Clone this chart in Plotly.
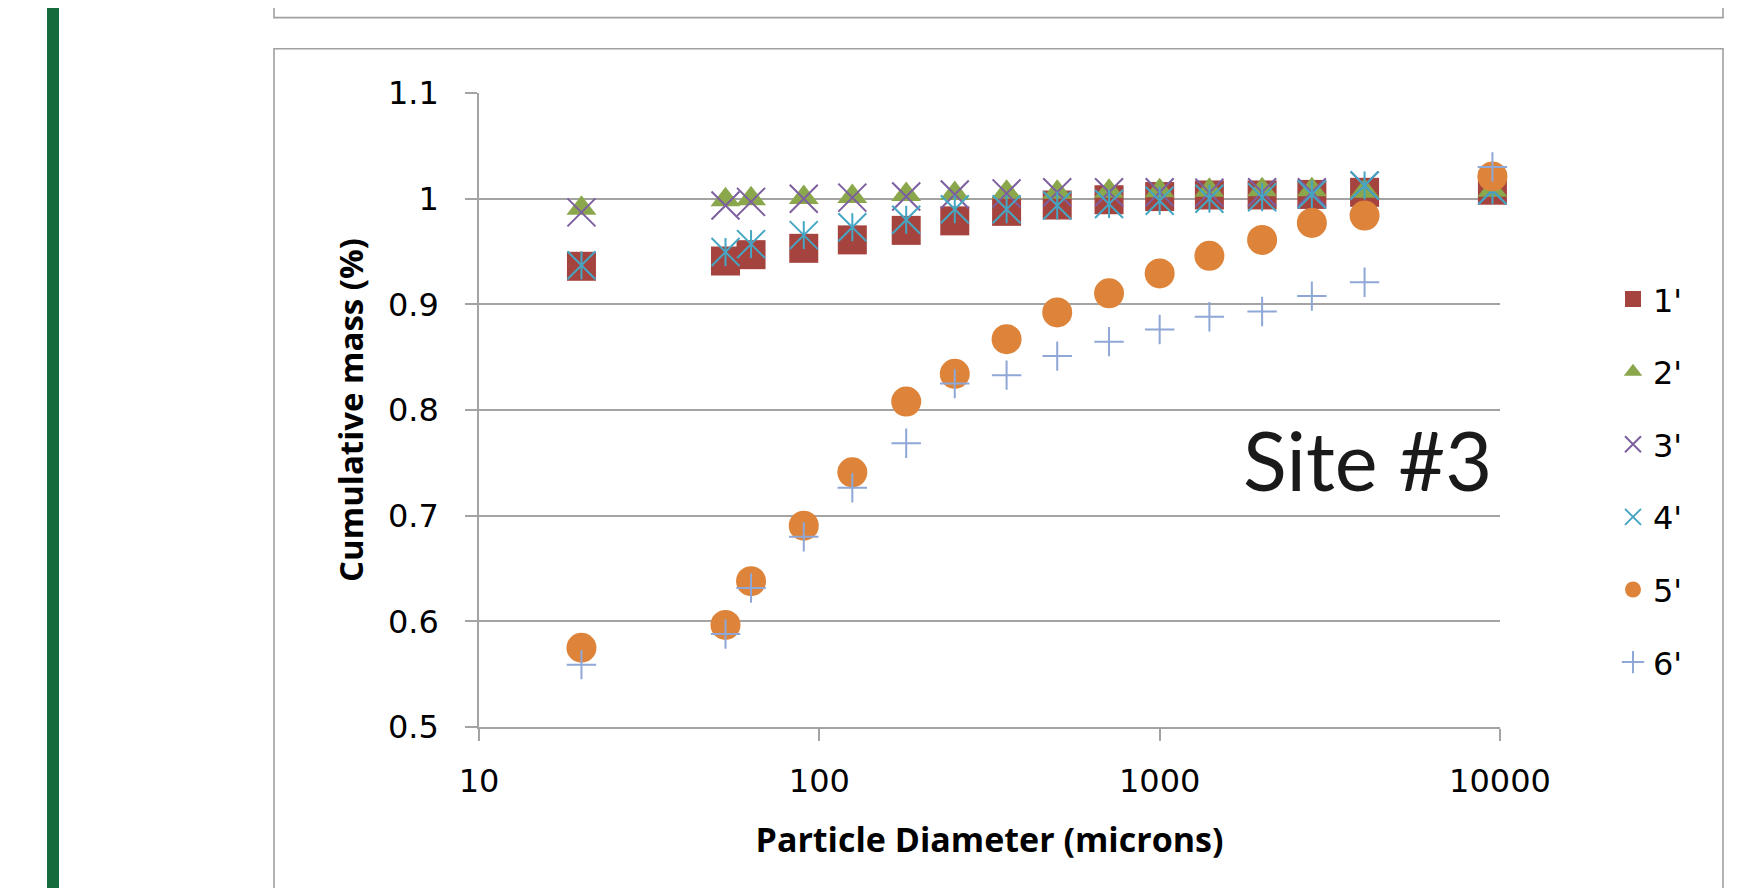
import plotly.graph_objects as go

# ---- data ----
diameters = [20, 53, 63, 90, 125, 180, 250, 355, 500, 710, 1000, 1400, 2000, 2800, 4000, 9500]
series_names = ["1'", "2'", "3'", "4'", "5'", "6'"]
s1 = [0.936, 0.941, 0.947, 0.953, 0.961, 0.970, 0.979, 0.988, 0.994, 0.999, 1.002, 1.0035, 1.0035, 1.004, 1.006, 1.008]
s2 = [0.991, 0.999, 1.000, 1.001, 1.002, 1.004, 1.005, 1.006, 1.006, 1.007, 1.0075, 1.008, 1.0085, 1.0085, 1.007, 1.008]
s3 = [0.987, 0.9935, 0.997, 1.000, 1.001, 1.002, 1.004, 1.005, 1.006, 1.006, 1.006, 1.0057, 1.006, 1.006, 1.0125, 1.008]
s4 = [0.937, 0.9495, 0.957, 0.9655, 0.973, 0.980, 0.990, 0.990, 0.9935, 0.995, 0.998, 1.000, 1.0014, 1.004, 1.0125, 1.008]
s5 = [0.575, 0.5966, 0.638, 0.6905, 0.741, 0.808, 0.8342, 0.867, 0.8923, 0.9104, 0.9292, 0.9459, 0.961, 0.977, 0.984, 1.021]
s6 = [0.559, 0.588, 0.6315, 0.680, 0.7264, 0.7685, 0.825, 0.833, 0.851, 0.8647, 0.8762, 0.8883, 0.8932, 0.9078, 0.9209, 1.030]

y_tickvals = [0.5, 0.6, 0.7, 0.8, 0.9, 1.0, 1.1]
y_ticktext = ["0.5", "0.6", "0.7", "0.8", "0.9", "1", "1.1"]
x_tickvals = [10, 100, 1000, 10000]
x_ticktext = ["10", "100", "1000", "10000"]

x_title = "Particle Diameter (microns)"
y_title = "Cumulative mass (%)"
site_label = "Site #3"

# ---- layout geometry (reference pixels; page body has an 8px margin) ----
OFF = 8
W, H = 1740 - OFF, 888 - OFF
L, R, T, B = 479 - OFF, 1500 - OFF, 93.3 - OFF, 727 - OFF

def px_x(p):
    return (p - OFF - L) / (R - L)

def px_y(p):
    return (B - (p - OFF)) / (B - T)

TXT_FONT = "Lato, 'Open Sans', sans-serif"
NUM_FONT = "'DejaVu Sans', sans-serif"
TITLE_FONT = "'Open Sans', Lato, sans-serif"
GRID = "#a3a3a3"

c1, c2, c3, c4, c5, c6 = "#a5443f", "#8ba74c", "#7d5fa0", "#45a6c4", "#dd843a", "#8ea7d6"

fig = go.Figure()
fig.add_trace(go.Scatter(x=diameters, y=s1, mode="markers", name=series_names[0], legendgroup="g1",
                         marker=dict(symbol="square", size=29, color=c1, line=dict(width=0)), cliponaxis=False))
fig.add_trace(go.Scatter(x=diameters, y=s2, mode="markers", name=series_names[1], legendgroup="g2",
                         marker=dict(symbol="triangle-up", size=26, color=c2, line=dict(width=0)), cliponaxis=False))
fig.add_trace(go.Scatter(x=diameters, y=s3, mode="markers", name=series_names[2], legendgroup="g3",
                         marker=dict(symbol="x-thin", size=28, color=c3, line=dict(width=2, color=c3)), cliponaxis=False))
fig.add_trace(go.Scatter(x=diameters, y=s4, mode="markers", name=series_names[3], legendgroup="g4",
                         marker=dict(symbol="x-thin", size=28, color=c4, line=dict(width=2, color=c4)), cliponaxis=False))
fig.add_trace(go.Scatter(x=diameters, y=s4, mode="markers", name=series_names[3], legendgroup="g4", showlegend=False,
                         marker=dict(symbol="line-ns", size=20, color=c4, line=dict(width=2, color=c4)), cliponaxis=False))
fig.add_trace(go.Scatter(x=diameters, y=s5, mode="markers", name=series_names[4], legendgroup="g5",
                         marker=dict(symbol="circle", size=30, color=c5, line=dict(width=0)), cliponaxis=False))
fig.add_trace(go.Scatter(x=diameters, y=s6, mode="markers", name=series_names[5], legendgroup="g6",
                         marker=dict(symbol="cross-thin", size=21, color=c6, line=dict(width=2, color=c6)), cliponaxis=False))

shapes = [
    # green side bar
    dict(type="rect", xref="paper", yref="paper", x0=px_x(47), x1=px_x(59), y0=px_y(900), y1=px_y(-20),
         fillcolor="#166b3c", line=dict(width=0), layer="below"),
    # upper frame (only its bottom part is visible)
    dict(type="rect", xref="paper", yref="paper", x0=px_x(274), x1=px_x(1723), y0=px_y(18), y1=px_y(-30),
         line=dict(color="#a0a0a0", width=1.6), layer="below"),
    # chart frame
    dict(type="rect", xref="paper", yref="paper", x0=px_x(274), x1=px_x(1723), y0=px_y(920), y1=px_y(49),
         line=dict(color="#a0a0a0", width=1.6), layer="below"),
]

fig.update_layout(
    width=W, height=H,
    margin=dict(l=L, r=W - R, t=T, b=H - B, pad=0),
    paper_bgcolor="white", plot_bgcolor="white",
    font=dict(family=NUM_FONT, size=32, color="#000000"),
    showlegend=True,
    legend=dict(x=px_x(1613), y=px_y(272), xanchor="left", yanchor="top",
                traceorder="grouped", tracegroupgap=28, font=dict(family=NUM_FONT, size=32),
                bgcolor="rgba(0,0,0,0)", itemsizing="trace"),
    shapes=shapes,
    annotations=[dict(x=px_x(1494), y=px_y(460), xref="paper", yref="paper", text=site_label,
                      showarrow=False, xanchor="right", yanchor="middle",
                      font=dict(family=TXT_FONT, size=81, color="#1a1a1a"))],
)

fig.update_xaxes(type="log", range=[1, 4], tickvals=x_tickvals, ticktext=x_ticktext,
                 showgrid=False, zeroline=False, showline=True, linecolor=GRID, linewidth=1.6,
                 ticks="outside", ticklen=12, tickwidth=1.6, tickcolor=GRID,
                 tickfont=dict(family=NUM_FONT, size=32), ticklabelstandoff=13,
                 title=dict(text="<b>" + x_title + "</b>", font=dict(family=TITLE_FONT, size=34), standoff=29))
fig.update_yaxes(range=[0.5, 1.1], tickvals=y_tickvals, ticktext=y_ticktext,
                 showgrid=True, gridcolor=GRID, gridwidth=1.6, zeroline=False,
                 showline=True, linecolor=GRID, linewidth=1.6,
                 ticks="outside", ticklen=12, tickwidth=1.6, tickcolor=GRID,
                 tickfont=dict(family=NUM_FONT, size=32), ticklabelstandoff=20,
                 title=dict(text="<b>" + y_title + "</b>", font=dict(family=TITLE_FONT, size=33), standoff=14))

fig.write_html("out.html")
